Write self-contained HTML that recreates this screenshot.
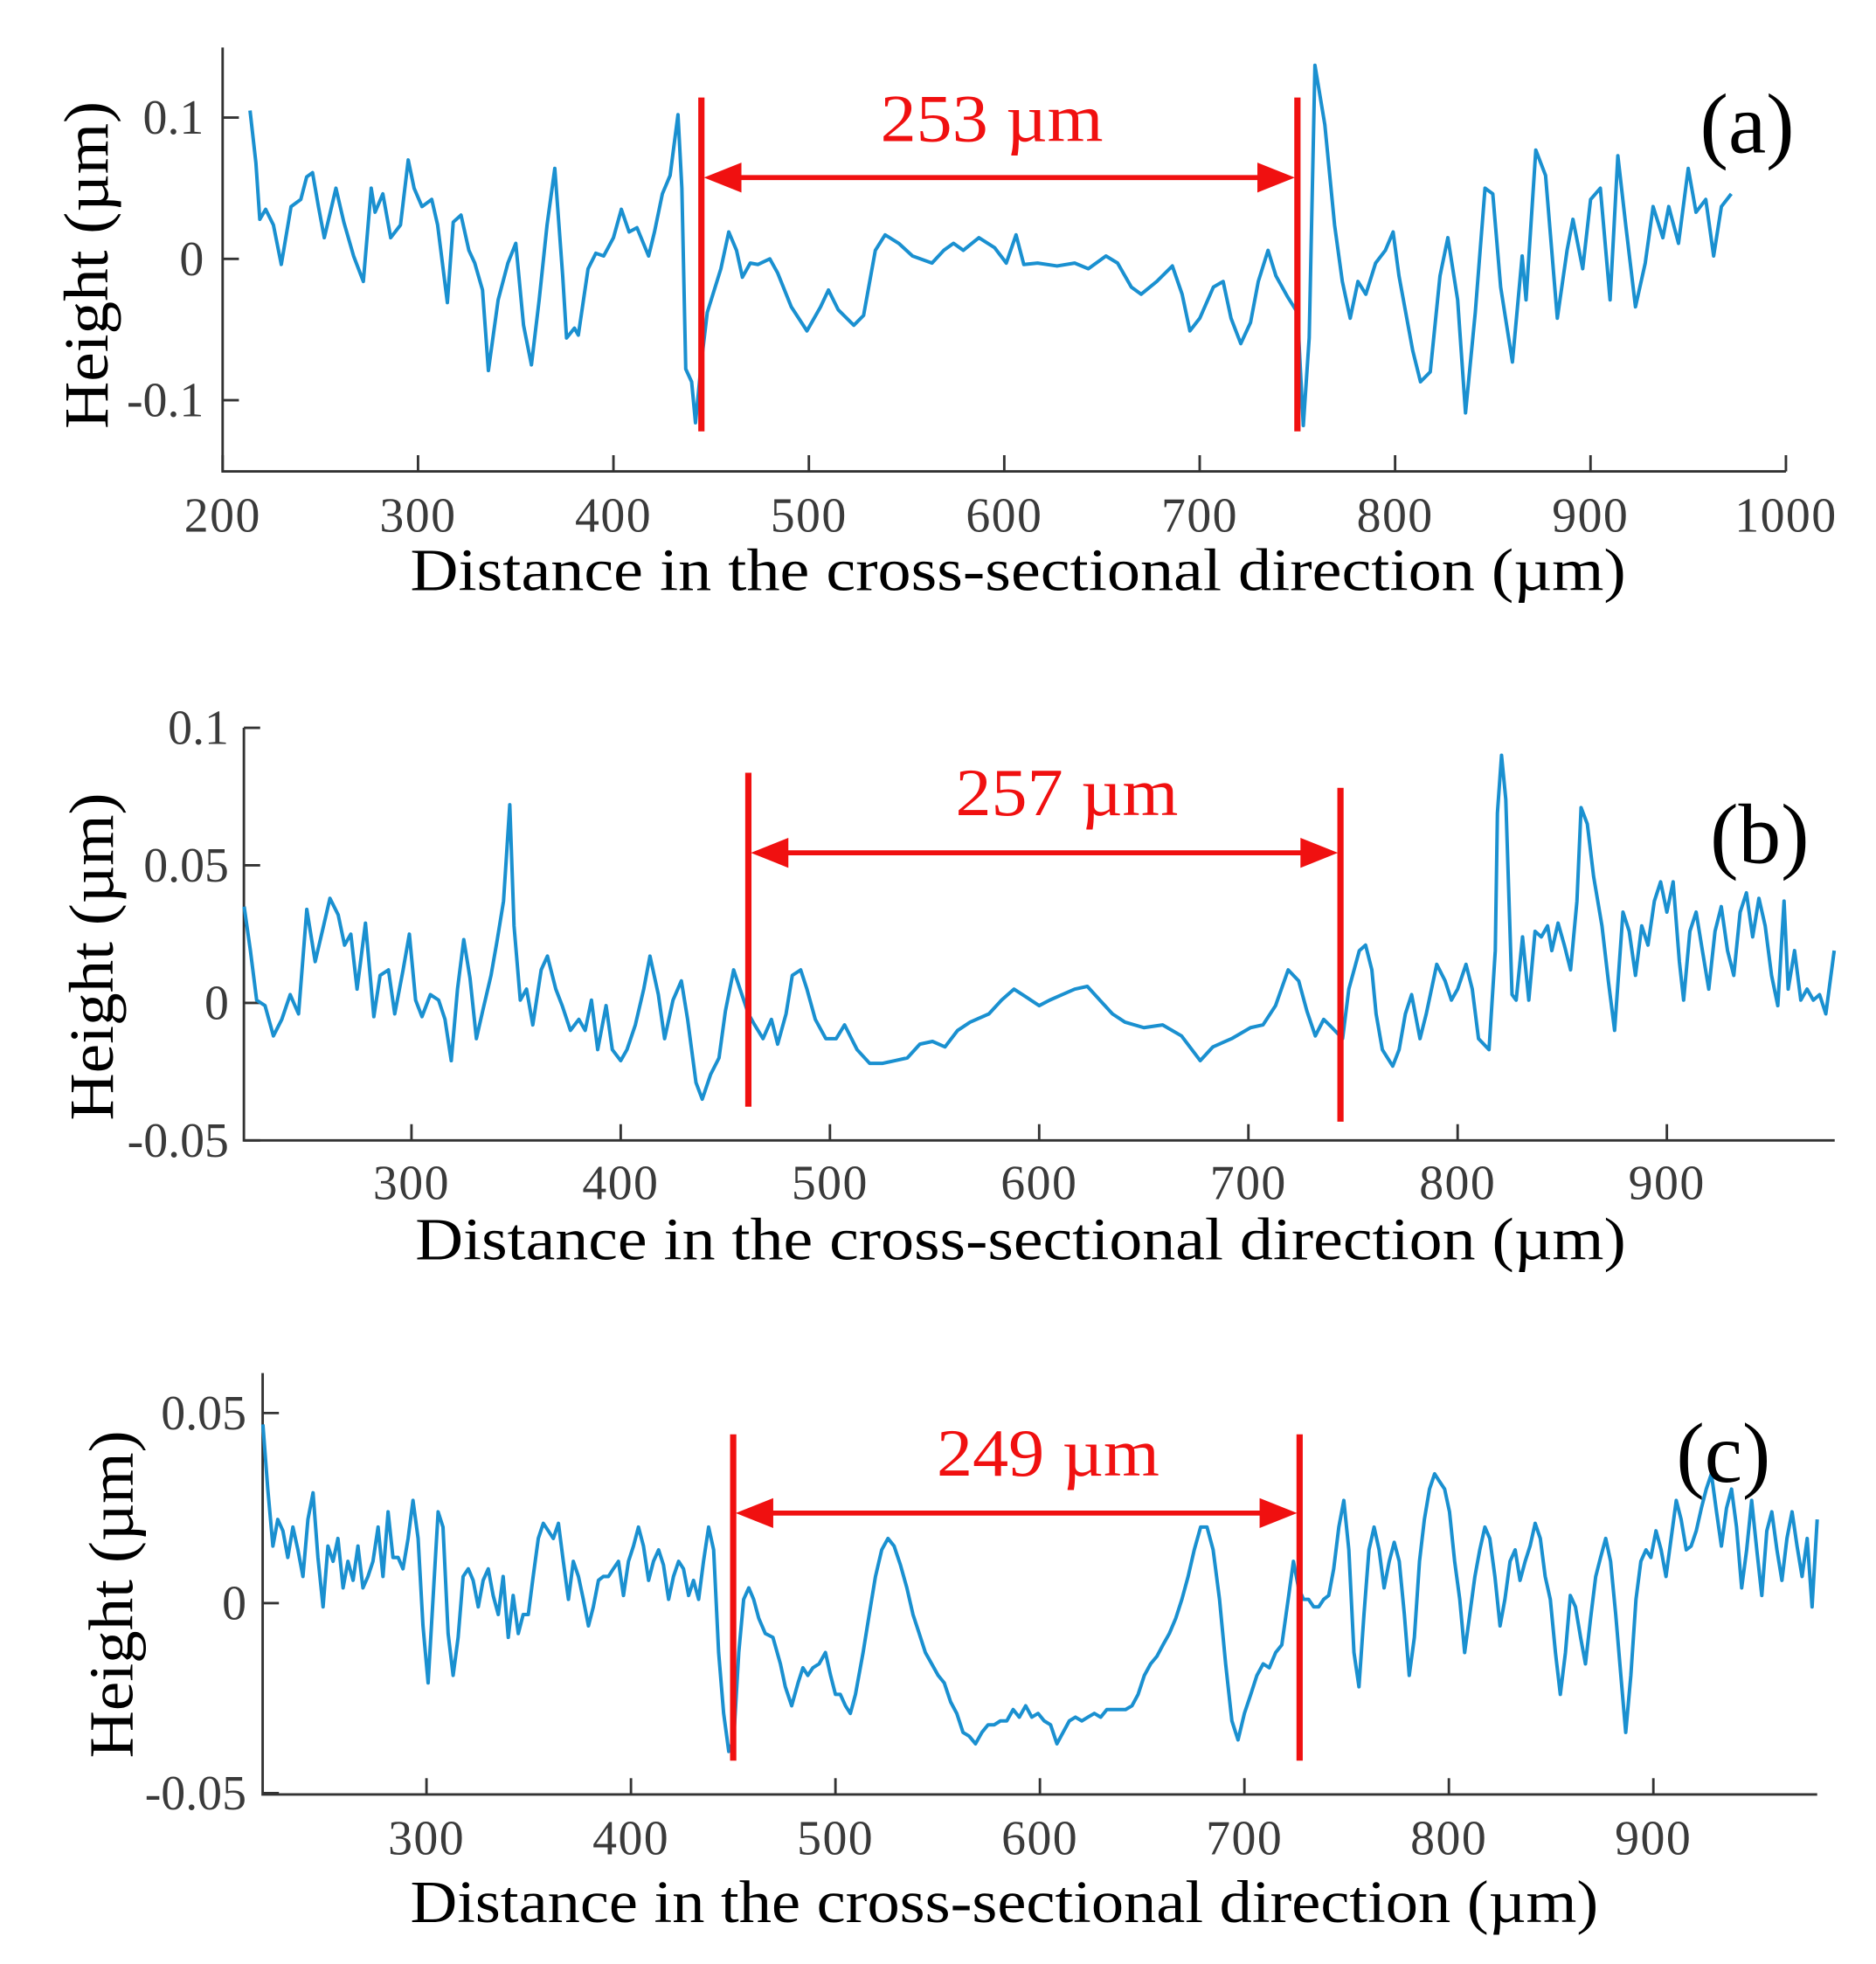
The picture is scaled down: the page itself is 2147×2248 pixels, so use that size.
<!DOCTYPE html>
<html><head><meta charset="utf-8"><style>
html,body{margin:0;padding:0;background:#fff;}
svg{display:block;}
text{font-family:"Liberation Serif",serif;}
</style></head><body>
<svg id="fig" width="2147" height="2248" viewBox="0 0 1500 1570.6" xmlns="http://www.w3.org/2000/svg"></svg>
<script>
// ---------- Panel (a) data ----------
const aX=[214,217,219,222,226,230,235,240,243,246,249,252,258,262,267,272,276,278,282,286,291,295,298,302,307,310,315,318,322,326,329,333,336,341,346,350,354,358,362,366,370,374,376,380,382,387,391,395,400,404,408,412,418,421,425,429,433,435,437,440,442,445,448,455,459,463,466,470,474,480,484,491,499,506,510,515,523,528,534,539,546,553,563,569,574,579,587,595,601,606,610,617,627,636,643,652,658,665,670,678,686,691,695,700,707,712,716,721,726,730,735,739,745,750,753,756,759,764,769,773,777,781,785,790,795,799,802,809,813,818,823,827,832,836,841,846,850,854,860,865,867,872,877,883,888,891,896,900,905,910,914,918,923,928,932,937,940,945,950,954,959,963,967,972];
const aY=[0.105,0.068,0.028,0.035,0.024,-0.004,0.037,0.042,0.058,0.061,0.037,0.015,0.05,0.026,0.002,-0.016,0.05,0.033,0.046,0.015,0.024,0.07,0.05,0.037,0.042,0.024,-0.031,0.026,0.031,0.006,-0.003,-0.022,-0.079,-0.029,-0.003,0.011,-0.047,-0.075,-0.029,0.024,0.064,-0.012,-0.056,-0.049,-0.054,-0.007,0.004,0.002,0.015,0.035,0.019,0.022,0.002,0.019,0.046,0.059,0.102,0.05,-0.078,-0.087,-0.116,-0.073,-0.038,-0.007,0.019,0.006,-0.013,-0.003,-0.004,0,-0.01,-0.034,-0.051,-0.034,-0.022,-0.036,-0.047,-0.04,0.006,0.017,0.011,0.002,-0.003,0.006,0.011,0.006,0.015,0.008,-0.003,0.017,-0.004,-0.003,-0.005,-0.003,-0.007,0.002,-0.003,-0.02,-0.025,-0.016,-0.005,-0.025,-0.051,-0.042,-0.02,-0.016,-0.042,-0.06,-0.045,-0.016,0.006,-0.012,-0.027,-0.038,-0.118,-0.056,0.137,0.095,0.024,-0.016,-0.042,-0.016,-0.025,-0.003,0.006,0.019,-0.012,-0.065,-0.087,-0.08,-0.012,0.015,-0.029,-0.109,-0.038,0.05,0.046,-0.02,-0.073,0.002,-0.029,0.077,0.059,-0.042,0.006,0.028,-0.007,0.042,0.05,-0.029,0.073,0.024,-0.034,-0.003,0.037,0.015,0.037,0.011,0.064,0.033,0.042,0.002,0.037,0.046];
const aXTicks=[200,300,400,500,600,700,800,900,1000];
const aYTicks=[0.1,0,-0.1];
const aYTickLabels=["0.1","0","-0.1"];
const aMarkers=[445,750];

// ---------- Panel (b) data ----------
const bX=[220,223,226,230,234,238,242,246,250,254,258,261,265,268,271,274,278,282,285,289,292,296,299,302,305,309,313,316,319,322,325,328,331,334,338,341,344,347,349,352,355,358,362,365,369,372,376,380,383,386,389,393,396,400,403,407,411,414,418,421,425,429,432,436,439,443,447,450,454,457,461,464,468,472,475,479,482,486,489,493,498,503,507,513,519,525,531,537,543,549,555,561,567,576,582,588,594,600,605,611,617,623,629,635,641,650,659,668,677,683,692,701,707,713,719,724,728,732,736,740,745,748,753,756,759,761,764,769,772,775,778,782,785,790,794,797,800,804,807,810,815,818,819,821,823,826,828,831,834,837,840,843,845,848,851,854,857,859,862,865,869,872,875,879,882,885,888,891,894,897,900,903,906,908,911,914,917,920,923,926,929,932,935,938,941,944,947,950,953,956,958,961,964,967,970,973,976,980];
const bY=[0.035,0.019,0.001,-0.001,-0.012,-0.006,0.003,-0.004,0.034,0.015,0.028,0.038,0.032,0.021,0.025,0.005,0.029,-0.005,0.01,0.012,-0.004,0.012,0.025,0.001,-0.005,0.003,0.001,-0.006,-0.021,0.005,0.023,0.009,-0.013,-0.003,0.01,0.023,0.037,0.072,0.028,0.001,0.005,-0.008,0.012,0.017,0.005,-0.001,-0.01,-0.006,-0.01,0.001,-0.017,-0.001,-0.017,-0.021,-0.017,-0.008,0.005,0.017,0.003,-0.013,0.001,0.008,-0.006,-0.029,-0.035,-0.026,-0.02,-0.003,0.012,0.005,-0.004,-0.008,-0.013,-0.006,-0.015,-0.004,0.01,0.012,0.005,-0.006,-0.013,-0.013,-0.008,-0.017,-0.022,-0.022,-0.021,-0.02,-0.015,-0.014,-0.016,-0.01,-0.007,-0.004,0.001,0.005,0.002,-0.001,0.001,0.003,0.005,0.006,0.001,-0.004,-0.007,-0.009,-0.008,-0.012,-0.021,-0.016,-0.013,-0.009,-0.008,-0.001,0.012,0.008,-0.003,-0.012,-0.006,-0.009,-0.013,0.005,0.019,0.021,0.012,-0.004,-0.017,-0.023,-0.017,-0.004,0.003,-0.013,-0.004,0.014,0.008,0.001,0.005,0.014,0.005,-0.013,-0.017,0.019,0.069,0.09,0.074,0.003,0.001,0.024,0.001,0.026,0.024,0.028,0.019,0.029,0.021,0.012,0.037,0.071,0.065,0.046,0.028,0.008,-0.01,0.033,0.026,0.01,0.028,0.021,0.037,0.044,0.033,0.044,0.015,0.001,0.026,0.033,0.019,0.005,0.026,0.035,0.019,0.01,0.033,0.04,0.024,0.038,0.028,0.01,-0.001,0.037,0.005,0.019,0.001,0.005,0.001,0.003,-0.004,0.019];
const bXTicks=[300,400,500,600,700,800,900];
const bYTicks=[0.1,0.05,0,-0.05];
const bYTickLabels=["0.1","0.05","0","-0.05"];
const bMarkers=[461,744];

// ---------- Panel (c) data ----------
const cX=[220,222.4,224.9,227.3,229.8,232.2,234.7,237.1,239.6,242,244.5,246.9,249.4,251.8,254.3,256.7,259.2,261.6,264.1,266.5,268.9,271.4,273.8,276.3,278.7,281.2,283.6,286.1,288.5,291,293.4,295.9,298.3,300.8,303.2,305.7,308.1,310.6,313,315.5,317.9,320.4,322.8,325.3,327.7,330.2,332.6,335.1,337.5,340,342.4,344.9,347.3,349.8,352.2,354.7,357.1,359.6,362,364.5,366.9,369.4,371.8,374.3,376.7,379.2,381.6,384.1,386.5,389,391.4,393.9,396.3,398.8,401.2,403.7,406.1,408.6,411,413.5,415.9,418.4,420.8,423.3,425.7,428.2,430.6,433.1,435.5,438,440.4,442.9,445.3,447.8,450.2,452.7,455.1,457.6,460,462.5,
465.7,469.4,473.1,475.5,478.6,481.7,484.1,486.5,489,492,495.1,497.6,500,502.4,504.9,507.3,509.8,513.5,
516.5,519.6,522.6,525.7,528.7,531.8,534.9,537.9,541,544,547.1,550.2,553.2,556.3,559.3,562.4,565.4,568.5,571.6,574.6,577.7,580.7,583.8,586.9,589.9,593,596,599.1,602.1,605.2,608.3,611.3,614.4,617.4,620.5,623.5,626.6,629.7,632.7,635.8,638.8,641.9,645,648,651.1,654.1,657.2,660.2,663.3,666.4,669.4,672.5,675.5,678.6,681.7,684.7,687.8,690.8,693.9,696.9,700,703.1,706.1,709.2,712.2,715.3,718.3,721.4,
724.0,726.5,728.9,731.4,733.9,736.3,738.8,741.2,743.7,746.2,748.6,751.1,753.6,756.0,758.5,760.9,763.4,765.9,768.3,770.8,773.3,775.7,778.2,780.6,783.1,785.6,788.0,790.5,793.0,795.4,797.9,800.3,802.8,805.3,807.7,810.2,812.7,815.1,817.6,820.0,822.5,825.0,827.4,829.9,832.4,834.8,837.3,839.7,842.2,844.7,847.1,849.6,852.1,854.5,857.0,859.4,861.9,864.4,866.8,869.3,871.8,874.2,876.7,879.1,881.6,884.1,886.5,889.0,891.5,893.9,896.4,898.8,901.3,903.8,906.2,908.7,911.2,913.6,916.1,918.5,921.0,923.5,925.9,928.4,930.9,933.3,935.8,938.2,940.7,943.2,945.6,948.1,950.6,953.0,955.5,957.9,960.4,962.9,965.3,967.8,970.3,972.7,975.2,977.6,980.1];
const cY=[0.047,0.030,0.015,0.022,0.019,0.012,0.020,0.014,0.007,0.022,0.029,0.012,-0.001,0.015,0.011,0.017,0.004,0.011,0.006,0.015,0.004,0.007,0.011,0.020,0.007,0.024,0.012,0.012,0.009,0.017,0.027,0.017,-0.006,-0.021,0.001,0.024,0.020,-0.008,-0.019,-0.009,0.007,0.009,0.006,-0.001,0.006,0.009,0.002,-0.003,0.007,-0.009,0.002,-0.008,-0.003,-0.003,0.007,0.017,0.021,0.019,0.017,0.021,0.011,0.001,0.011,0.007,0.001,-0.006,-0.001,0.006,0.007,0.007,0.009,0.011,0.002,0.011,0.015,0.020,0.015,0.006,0.011,0.014,0.010,0.001,0.007,0.011,0.009,0.002,0.006,0.001,0.011,0.020,0.014,-0.013,-0.029,-0.039,-0.036,-0.013,0.001,0.004,0.001,-0.004,
-0.008,-0.009,-0.016,-0.022,-0.027,-0.021,-0.017,-0.019,-0.017,-0.016,-0.013,-0.019,-0.024,-0.024,-0.027,-0.029,-0.024,-0.013,
-0.003,0.007,0.014,0.017,0.015,0.010,0.004,-0.003,-0.008,-0.013,-0.016,-0.019,-0.021,-0.026,-0.029,-0.034,-0.035,-0.037,-0.034,-0.032,-0.032,-0.031,-0.031,-0.028,-0.030,-0.027,-0.030,-0.029,-0.031,-0.032,-0.037,-0.034,-0.031,-0.030,-0.031,-0.030,-0.029,-0.030,-0.028,-0.028,-0.028,-0.028,-0.027,-0.024,-0.019,-0.016,-0.014,-0.011,-0.008,-0.004,0.001,0.007,0.014,0.020,0.020,0.014,0.001,-0.016,-0.031,-0.036,-0.029,-0.024,-0.019,-0.016,-0.017,-0.013,-0.011,0.001,
0.011,0.004,0.001,0.001,-0.001,-0.001,0.001,0.002,0.009,0.020,0.027,0.014,-0.013,-0.022,-0.003,0.014,0.020,0.014,0.004,0.011,0.016,0.011,-0.003,-0.019,-0.009,0.011,0.022,0.030,0.034,0.032,0.030,0.024,0.011,0.001,-0.013,-0.003,0.007,0.014,0.020,0.017,0.007,-0.006,0.001,0.011,0.014,0.006,0.011,0.015,0.021,0.017,0.007,0.001,-0.013,-0.024,-0.013,0.002,-0.001,-0.009,-0.016,-0.004,0.007,0.012,0.017,0.011,-0.003,-0.019,-0.034,-0.019,0.001,0.011,0.014,0.012,0.019,0.014,0.007,0.017,0.027,0.022,0.014,0.015,0.019,0.025,0.030,0.034,0.024,0.015,0.025,0.030,0.020,0.004,0.014,0.027,0.014,0.002,0.019,0.024,0.014,0.006,0.017,0.024,0.015,0.007,0.017,-0.001,0.022];
const cXTicks=[300,400,500,600,700,800,900];
const cYTicks=[0.05,0,-0.05];
const cYTickLabels=["0.05","0","-0.05"];
const cMarkers=[450,727];

const NS="http://www.w3.org/2000/svg";
const svg=document.getElementById('fig');
function mk(tag,attrs,parent,txt){const e=document.createElementNS(NS,tag);for(const k in attrs)e.setAttribute(k,attrs[k]);if(txt!==undefined)e.textContent=txt;(parent||svg).appendChild(e);return e;}

function panel(cfg){
  const g=mk('g',{});
  
  
  const sx=v=>cfg.x0+(v-cfg.xv0)*cfg.kx;
  const sy=v=>cfg.y0-(v)*cfg.ky;
  const ax=mk('path',{d:`M${cfg.axL},${cfg.axTop} L${cfg.axL},${cfg.axB} L${cfg.axR},${cfg.axB}`,fill:'none',stroke:'#333',"stroke-width":2},g);
  
  
  cfg.xt.forEach(t=>{
    const x=sx(t);
    const tk=mk('line',{x1:x,x2:x,y1:cfg.axB,y2:cfg.axB-13,stroke:'#333',"stroke-width":2},g);
    
    
    const tl=mk('text',{x:x,y:cfg.xlY,"text-anchor":'middle',"font-size":39,"letter-spacing":1,fill:'#3a3a3a'},g,String(t));
    
    
  });
  cfg.yt.forEach((t,i)=>{
    const y=sy(t);
    const tk=mk('line',{x1:cfg.axL,x2:cfg.axL+13,y1:y,y2:y,stroke:'#333',"stroke-width":2},g);
    
    
    const tl=mk('text',{x:cfg.ylX,y:y+13,"text-anchor":'end',"font-size":39,fill:'#3a3a3a'},g,cfg.ytl[i]);
    
    
  });
  let d='';
  const n=Math.min(cfg.X.length,cfg.Y.length);
  for(let i=0;i<n;i++){d+=(i?'L':'M')+sx(cfg.X[i]).toFixed(1)+','+sy(cfg.Y[i]).toFixed(1);}
  const ln=mk('path',{d:d,fill:'none',stroke:'#1a90d0',"stroke-width":2.8,"stroke-linejoin":'round'},g);
  
  
  const m1=sx(cfg.M[0]),m2=sx(cfg.M[1]);
  cfg.mk.forEach((r,i)=>{
    const x=i?m2:m1;
    const v=mk('line',{x1:x,x2:x,y1:r[0],y2:r[1],stroke:'#f01010',"stroke-width":5},g);
    
    
  });
  const ay=cfg.arrY;
  const ar=mk('path',{d:`M${m1+30},${ay} L${m2-30},${ay}`,stroke:'#f01010',"stroke-width":4,fill:'none'},g);
  
  
  const h1=mk('polygon',{points:`${m1+2},${ay} ${m1+32},${ay-12} ${m1+32},${ay+12}`,fill:'#f01010'},g);
  
  
  const h2=mk('polygon',{points:`${m2-2},${ay} ${m2-32},${ay-12} ${m2-32},${ay+12}`,fill:'#f01010'},g);
  
  
  const wt=mk('text',{x:cfg.wX,y:cfg.wY,"text-anchor":'middle',"font-size":54,textLength:178,lengthAdjust:'spacingAndGlyphs',fill:'#f01010'},g,cfg.wText);
  
  
  const pl=mk('text',{x:cfg.pX,y:cfg.pY,"text-anchor":'middle',"font-size":68,fill:'#000'},g,cfg.pText);
  
  
  const yt=mk('text',{x:0,y:0,"text-anchor":'middle',"font-size":50,textLength:262,lengthAdjust:'spacingAndGlyphs',fill:'#000',transform:`translate(${cfg.yTX},${cfg.yTY}) rotate(-90)`},g,'Height (µm)');
  
  
  const xt=mk('text',{x:cfg.xTX,y:cfg.xTY,"text-anchor":'middle',"font-size":48,textLength:cfg.xTL,lengthAdjust:'spacingAndGlyphs',fill:'#000'},g,'Distance in the cross-sectional direction (µm)');
  
  
}

panel({id:'a',X:aX,Y:aY,xt:aXTicks,yt:aYTicks,ytl:aYTickLabels,M:aMarkers,
  x0:178,xv0:200,kx:1.5625,y0:207,ky:1130,axL:178,axR:1428,axTop:38,axB:377,xlY:425,ylX:163,
  mk:[[78,345],[78,345]],arrY:142,wX:793,wY:113,wText:'253 µm',pX:1397,pY:122,pText:'(a)',yTX:86,yTY:212,xTX:814,xTY:472,xTL:972});
panel({id:'b',X:bX,Y:bY,xt:bXTicks,yt:bYTicks,ytl:bYTickLabels,M:bMarkers,
  x0:329,xv0:300,kx:1.673,y0:802,ky:2200,axL:195,axR:1467,axTop:582,axB:912,xlY:959,ylX:183,
  mk:[[618,885],[630,897]],arrY:682,wX:853,wY:652,wText:'257 µm',pX:1407,pY:690,pText:'(b)',yTX:90,yTY:765,xTX:816,xTY:1007,xTL:968});
panel({id:'c',X:cX,Y:cY,xt:cXTicks,yt:cYTicks,ytl:cYTickLabels,M:cMarkers,
  x0:341,xv0:300,kx:1.635,y0:1282,ky:3040,axL:210,axR:1453,axTop:1098,axB:1435,xlY:1483,ylX:197,
  mk:[[1147,1408],[1147,1408]],arrY:1210,wX:838,wY:1180,wText:'249 µm',pX:1378,pY:1185,pText:'(c)',yTX:106,yTY:1275,xTX:803,xTY:1537,xTL:950});
</script>
</body></html>
